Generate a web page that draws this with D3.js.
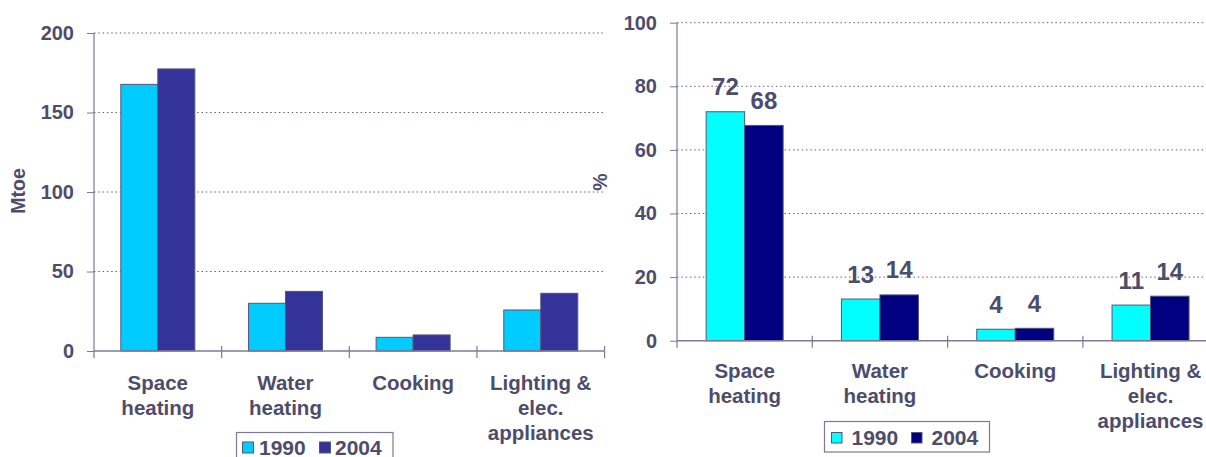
<!DOCTYPE html>
<html><head><meta charset="utf-8">
<script src="https://cdn.jsdelivr.net/npm/d3@7"></script>
<style>
body{margin:0;background:#fff;}
svg{display:block;font-family:"Liberation Sans",Arial,sans-serif;font-weight:bold;}
</style>
</head><body><svg id="c" width="1206" height="457"></svg>
<script>
// ---- data ----
const categories = [["Space","heating"],["Water","heating"],["Cooking"],["Lighting &","elec.","appliances"]];
const series = ["1990","2004"];
const mtoe1990 = [167.7, 30.0, 8.6, 25.8];
const mtoe2004 = [177.4, 37.5, 10.1, 36.3];
const pct1990 = [72.0, 13.1, 3.6, 11.2];
const pct2004 = [67.7, 14.4, 3.9, 14.0];
const leftTicks = [0, 50, 100, 150, 200];
const rightTicks = [0, 20, 40, 60, 80, 100];

const TXT = "#4d4d6b", AX = "#7b7b99", GRID = "#5f5f80", EDGE = "#55557a";
const svg = d3.select("#c");

function panel(o) {
  const g = svg.append("g");
  const catIdx = d3.range(categories.length);
  const x = d3.scaleBand().domain(catIdx).range([o.x0, o.x1]).padding(0);
  const bw = x.bandwidth();
  const xs = d3.scaleBand().domain(series).range([(bw - o.pair) / 2, (bw + o.pair) / 2]).padding(0);
  const y = d3.scaleLinear().domain([0, o.max]).range([o.y0, o.yTop]);

  // gridlines
  g.selectAll("line.grid").data(o.ticks.filter(t => t > 0)).join("line")
    .attr("x1", o.x0).attr("x2", o.gridEnd)
    .attr("y1", d => y(d)).attr("y2", d => y(d))
    .attr("stroke", GRID).attr("stroke-width", 1).attr("stroke-dasharray", "1.5,2.8");

  // bars
  const rows = catIdx.map(i => ({i, v: [o.a[i], o.b[i]]}));
  const grp = g.selectAll("g.cat").data(rows).join("g")
    .attr("transform", d => `translate(${x(d.i)},0)`);
  grp.selectAll("rect").data(d => series.map((s, k) => ({s, v: d.v[k]}))).join("rect")
    .attr("x", d => xs(d.s)).attr("width", xs.bandwidth())
    .attr("y", d => y(d.v)).attr("height", d => y(0) - y(d.v))
    .attr("fill", (d, k) => o.colors[k]).attr("stroke", EDGE).attr("stroke-width", 1);

  if (o.values) {
    grp.selectAll("text.val").data(d => series.map((s, k) => ({s, v: d.v[k]}))).join("text")
      .attr("x", d => xs(d.s) + xs.bandwidth() / 2).attr("y", d => y(d.v) - 16.5)
      .attr("text-anchor", "middle").attr("fill", TXT).attr("font-size", 24)
      .text(d => d3.format(".0f")(d.v));
  }

  // y axis
  const ya = d3.axisLeft(y).tickValues(o.ticks).tickSize(7).tickPadding(13).tickSizeOuter(0);
  const yg = g.append("g").attr("transform", `translate(${o.x0},0)`).call(ya);
  yg.select(".domain").remove();
  yg.selectAll(".tick line").attr("stroke", AX);
  yg.selectAll(".tick text").attr("fill", TXT).attr("font-size", 20)
    .attr("font-family", '"Liberation Sans",Arial,sans-serif').attr("font-weight", "bold");
  g.append("line").attr("x1", o.x0).attr("x2", o.x0).attr("y1", o.yTop).attr("y2", o.y0 + 7)
    .attr("stroke", AX).attr("stroke-width", 1.2);

  // x axis
  g.append("line").attr("x1", o.x0).attr("x2", o.x1).attr("y1", o.y0).attr("y2", o.y0)
    .attr("stroke", AX).attr("stroke-width", 1.4);
  const bounds = catIdx.map(i => x(i)).concat([o.x1]);
  g.selectAll("line.xt").data(bounds.slice(1)).join("line")
    .attr("x1", d => d).attr("x2", d => d).attr("y1", o.y0 - 5).attr("y2", o.y0 + 7)
    .attr("stroke", AX).attr("stroke-width", 1.2);

  // category labels
  const cl = g.selectAll("text.cat").data(catIdx).join("text")
    .attr("text-anchor", "middle").attr("fill", TXT).attr("font-size", 20.5)
    .attr("x", i => x(i) + bw / 2).attr("y", o.catY);
  cl.selectAll("tspan").data(i => categories[i].map(t => ({t, i}))).join("tspan")
    .attr("x", d => x(d.i) + bw / 2).attr("dy", (d, k) => k === 0 ? 0 : 25).text(d => d.t);

  // axis title
  g.append("text").attr("transform", `translate(${o.titleX},${o.titleY}) rotate(-90)`)
    .attr("text-anchor", "middle").attr("dy", "0.35em").attr("fill", TXT).attr("font-size", 19.5)
    .text(o.title);

  // legend
  const L = o.leg;
  g.append("rect").attr("x", L.x).attr("y", L.y).attr("width", L.w).attr("height", L.h)
    .attr("fill", "#fff").attr("stroke", AX).attr("stroke-width", 1.2);
  const li = g.selectAll("g.leg").data(series).join("g");
  li.append("rect").attr("x", (d, k) => L.sx[k]).attr("y", L.sy).attr("width", L.ss).attr("height", L.ss)
    .attr("fill", (d, k) => o.colors[k]).attr("stroke", EDGE).attr("stroke-width", 1);
  li.append("text").attr("x", (d, k) => L.tx[k]).attr("y", L.ty).attr("fill", TXT)
    .attr("font-size", 21).text(d => d);
}

panel({
  x0: 94, x1: 604.6, y0: 351, yTop: 33, max: 200, gridEnd: 604.6, pair: 74,
  a: mtoe1990, b: mtoe2004, colors: ["#00ccff", "#333399"], ticks: leftTicks, values: false,
  catY: 390, title: "Mtoe", titleX: 18, titleY: 191,
  leg: {x: 236.5, y: 432.5, w: 156.5, h: 32, sx: [242.5, 319.5], sy: 442, ss: 11, tx: [259, 335], ty: 454.5}
});
panel({
  x0: 677, x1: 1218.2, y0: 340.7, yTop: 22.7, max: 100, gridEnd: 1210, pair: 77,
  a: pct1990, b: pct2004, colors: ["#00ffff", "#000080"], ticks: rightTicks, values: true,
  catY: 377.7, title: "%", titleX: 600, titleY: 182,
  leg: {x: 824.5, y: 421.5, w: 165, h: 30.5, sx: [831.5, 911.5], sy: 432.5, ss: 10.5, tx: [851.5, 931.5], ty: 444.5}
});
</script>
</body></html>
